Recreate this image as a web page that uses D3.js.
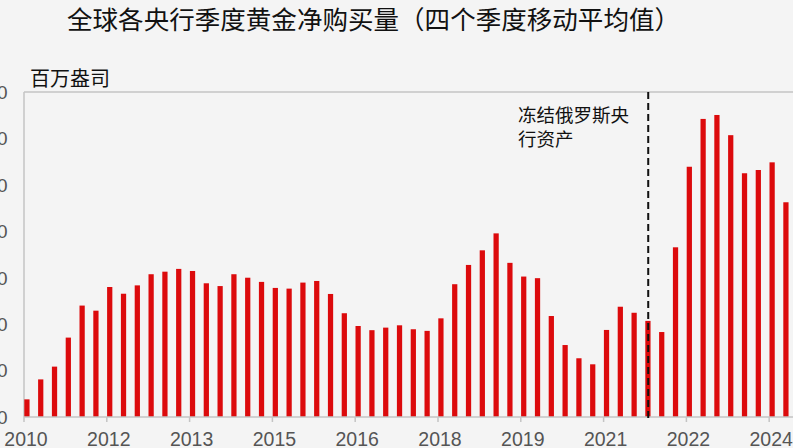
<!DOCTYPE html>
<html>
<head>
<meta charset="utf-8">
<script src="https://cdn.jsdelivr.net/npm/d3@7"></script>
<style>
  html, body { margin: 0; padding: 0; background: #f4f4f4; }
  svg { display: block; }
</style>
</head>
<body>
<svg id="chart" width="793" height="448"></svg>
<script>
// quarterly net purchases, 4Q moving average (million oz), 2010Q1 - 2023Q4
const years = [2010, 2011, 2012, 2013, 2014, 2015, 2016, 2017, 2018, 2019, 2020, 2021, 2022, 2023];
const quarters = ['Q1', 'Q2', 'Q3', 'Q4'];
const values = [
  0.76, 1.62, 2.17, 3.42, 4.80, 4.58, 5.60, 5.31,
  5.67, 6.15, 6.26, 6.38, 6.29, 5.76, 5.64, 6.15,
  6.00, 5.82, 5.56, 5.53, 5.79, 5.86, 5.30, 4.47,
  3.92, 3.74, 3.85, 3.95, 3.78, 3.71, 4.25, 5.72,
  6.55, 7.18, 7.91, 6.64, 6.05, 5.98, 4.35, 3.10,
  2.53, 2.27, 3.75, 4.75, 4.49, 4.14, 3.66, 7.31,
  10.78, 12.84, 13.01, 12.14, 10.50, 10.64, 10.97, 9.25
];
const tickLabels = ['2010', '2012', '2013', '2015', '2016', '2018', '2019', '2021', '2022', '2024'];
const yTicks = [0, 2, 4, 6, 8, 10, 12, 14];
const eventIndex = 45; // 冻结俄罗斯央行资产

const categories = years.flatMap(y => quarters.map(q => y + q));

const svg = d3.select('#chart');
const plotLeft = 24, plotTop = 92, plotBottom = 417, step = 13.8;
const red = '#dc0a0c';
const gridColor = '#c4c4c4';

const x = d3.scaleBand()
  .domain(categories)
  .range([plotLeft, plotLeft + step * categories.length])
  .paddingInner(0).paddingOuter(0);

const y = d3.scaleLinear()
  .domain([0, 14])
  .range([plotBottom, plotTop]);

// title
svg.append('text')
  .attr('x', 67).attr('y', 29)
  .attr('textLength', 613)
  .attr('lengthAdjust', 'spacing')
  .attr('font-family', '"Noto Sans CJK SC", sans-serif')
  .attr('font-size', 25.5)
  .attr('fill', '#111')
  .text('全球各央行季度黄金净购买量（四个季度移动平均值）');

svg.append('text')
  .attr('x', 30).attr('y', 86)
  .attr('font-family', '"Noto Sans CJK SC", sans-serif')
  .attr('font-size', 20)
  .attr('fill', '#111')
  .text('百万盎司');

// frame lines
svg.append('line')
  .attr('x1', plotLeft).attr('x2', 793)
  .attr('y1', plotTop).attr('y2', plotTop)
  .attr('stroke', gridColor).attr('stroke-width', 1.5);
svg.append('line')
  .attr('x1', plotLeft).attr('x2', plotLeft)
  .attr('y1', plotTop).attr('y2', plotBottom)
  .attr('stroke', gridColor).attr('stroke-width', 1.5);

// y labels (cut off at the left edge)
svg.append('g')
  .selectAll('text')
  .data(yTicks)
  .join('text')
  .attr('x', 7.5)
  .attr('y', d => y(d))
  .attr('dy', '0.36em')
  .attr('text-anchor', 'end')
  .attr('font-family', '"Liberation Sans", Arial, sans-serif')
  .attr('font-size', 19)
  .attr('fill', '#555')
  .text(d3.format('.1f'));

// bars
svg.append('g')
  .selectAll('rect')
  .data(values)
  .join('rect')
  .attr('x', (d, i) => x(categories[i]) + 0.3)
  .attr('width', x.bandwidth() * 0.38)
  .attr('y', d => y(d))
  .attr('height', d => y(0) - y(d))
  .attr('fill', red);

// x axis
const tickCats = tickLabels.map((t, i) => categories[i * 6]);
const xAxis = svg.append('g');
xAxis.append('line')
  .attr('x1', plotLeft).attr('x2', 793)
  .attr('y1', plotBottom).attr('y2', plotBottom)
  .attr('stroke', gridColor).attr('stroke-width', 1.5);
xAxis.selectAll('line.tick')
  .data(tickCats)
  .join('line')
  .attr('class', 'tick')
  .attr('x1', d => x(d)).attr('x2', d => x(d))
  .attr('y1', plotBottom).attr('y2', plotBottom + 5)
  .attr('stroke', gridColor).attr('stroke-width', 1.5);
xAxis.selectAll('text')
  .data(tickCats)
  .join('text')
  .attr('x', d => x(d) + 2)
  .attr('y', 446)
  .attr('text-anchor', 'middle')
  .attr('font-family', '"Liberation Sans", Arial, sans-serif')
  .attr('font-size', 19.5)
  .attr('fill', '#555')
  .text((d, i) => tickLabels[i]);

// event marker
const ex = x(categories[eventIndex]) + x.bandwidth() * 0.19 + 0.6;
svg.append('line')
  .attr('x1', ex).attr('x2', ex)
  .attr('y1', plotTop).attr('y2', plotBottom + 2)
  .attr('stroke', '#111')
  .attr('stroke-width', 2)
  .attr('stroke-dasharray', '7,4');

const note = svg.append('text')
  .attr('font-family', '"Noto Sans CJK SC", sans-serif')
  .attr('font-size', 18.5)
  .attr('fill', '#111');
note.append('tspan').attr('x', 518).attr('y', 122).text('冻结俄罗斯央');
note.append('tspan').attr('x', 518).attr('y', 146).text('行资产');
</script>
</body>
</html>
